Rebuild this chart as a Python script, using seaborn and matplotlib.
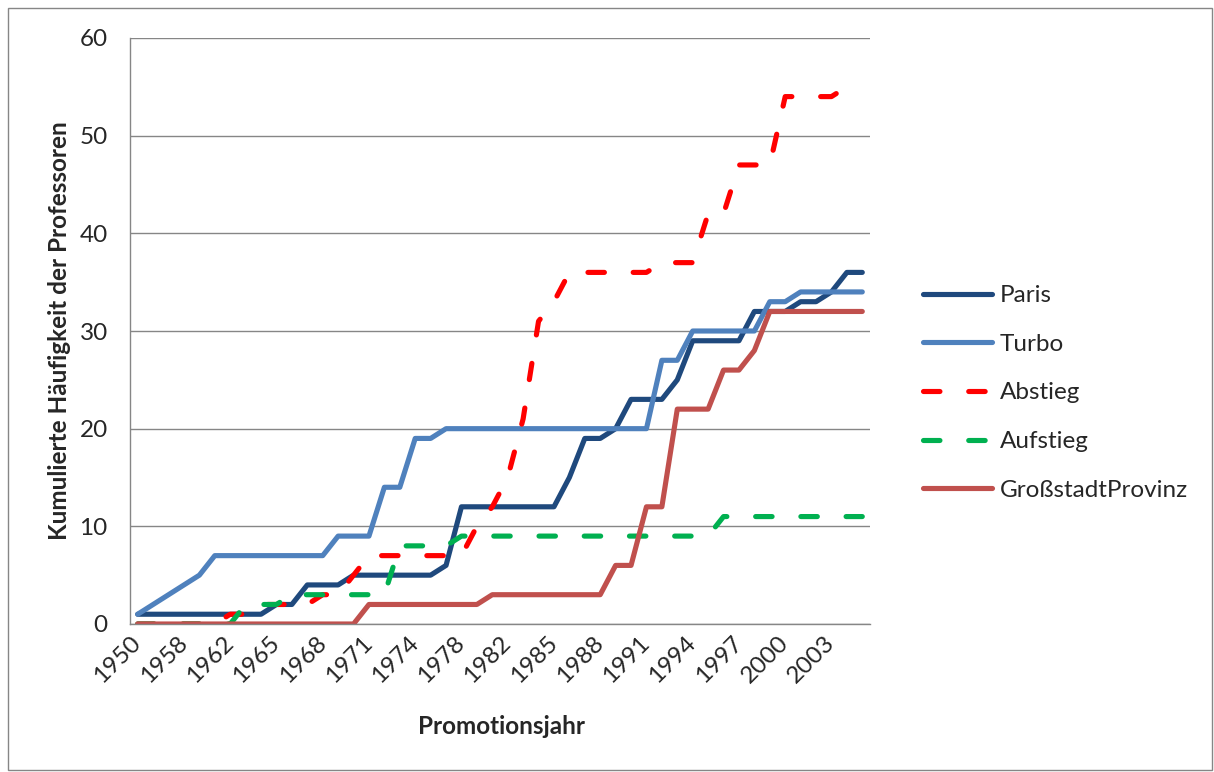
import matplotlib
matplotlib.use('Agg')
import matplotlib.pyplot as plt
import numpy as np
import pandas as pd
import seaborn as sns
from matplotlib.lines import Line2D
from matplotlib.patches import Rectangle

# Category axis: one entry per Promotionsjahr present in the data
years = [1950, 1952, 1955, 1958, 1959, 1960, 1962, 1963, 1964, 1965,
         1966, 1967, 1968, 1969, 1970, 1971, 1972, 1973, 1974, 1975,
         1976, 1978, 1979, 1980, 1982, 1983, 1984, 1985, 1986, 1987,
         1988, 1989, 1990, 1991, 1992, 1993, 1994, 1995, 1996, 1997,
         1998, 1999, 2000, 2001, 2002, 2003, 2004, 2005]

paris = [1, 1, 1, 1, 1, 1, 1, 1, 1, 2, 2, 4, 4, 4, 5, 5, 5, 5, 5, 5,
         6, 12, 12, 12, 12, 12, 12, 12, 15, 19, 19, 20, 23, 23, 23, 25,
         29, 29, 29, 29, 32, 32, 32, 33, 33, 34, 36, 36]
turbo = [1, 2, 3, 4, 5, 7, 7, 7, 7, 7, 7, 7, 7, 9, 9, 9, 14, 14, 19, 19,
         20, 20, 20, 20, 20, 20, 20, 20, 20, 20, 20, 20, 20, 20, 27, 27,
         30, 30, 30, 30, 30, 33, 33, 34, 34, 34, 34, 34]
abstieg = [0, 0, 0, 0, 0, 0, 1, 1, 2, 2, 2, 2, 3, 3, 5, 7, 7, 7, 7, 7,
           7, 7, 10, 12, 15, 21, 31, 33, 36, 36, 36, 36, 36, 36, 37, 37,
           37, 42, 42, 47, 47, 47, 54, 54, 54, 54, 55, 55]
aufstieg = [0, 0, 0, 0, 0, 0, 0, 2, 2, 2, 3, 3, 3, 3, 3, 3, 3, 8, 8, 8,
            8, 9, 9, 9, 9, 9, 9, 9, 9, 9, 9, 9, 9, 9, 9, 9,
            9, 9, 11, 11, 11, 11, 11, 11, 11, 11, 11, 11]
provinz = [0, 0, 0, 0, 0, 0, 0, 0, 0, 0, 0, 0, 0, 0, 0, 2, 2, 2, 2, 2,
           2, 2, 2, 3, 3, 3, 3, 3, 3, 3, 3, 6, 6, 12, 12, 22,
           22, 22, 26, 26, 28, 32, 32, 32, 32, 32, 32, 32]

series_names = ['Paris', 'Turbo', 'Abstieg', 'Aufstieg', 'GroßstadtProvinz']
colors = {
    'Paris': '#1F497D',
    'Turbo': '#4F81BD',
    'Abstieg': '#FF0000',
    'Aufstieg': '#00B050',
    'GroßstadtProvinz': '#C0504D',
}
dash_style = (3.2, 5.6)
dashes = {
    'Paris': '',
    'Turbo': '',
    'Abstieg': dash_style,
    'Aufstieg': dash_style,
    'GroßstadtProvinz': '',
}

GRAY = '#868686'
LW = 3.7
FS = 17.5

# Long format for seaborn
wide = pd.DataFrame({
    'pos': np.arange(len(years)),
    'Paris': paris,
    'Turbo': turbo,
    'Abstieg': abstieg,
    'Aufstieg': aufstieg,
    'GroßstadtProvinz': provinz,
})
df = wide.melt(id_vars='pos', var_name='Serie', value_name='Wert')

sns.set_style('white')
plt.rcParams['font.family'] = ['Lato', 'DejaVu Sans']

W, H = 1214, 772
fig = plt.figure(figsize=(W / 100, H / 100), dpi=100)
ax = fig.add_axes([130 / W, 1 - 624 / H, 740 / W, 586 / H])

sns.lineplot(
    data=df, x='pos', y='Wert', hue='Serie', style='Serie',
    hue_order=series_names, style_order=series_names,
    palette=colors, dashes=dashes, lw=LW, ax=ax, legend=False,
    solid_capstyle='round', dash_capstyle='round', solid_joinstyle='round',
)

# Axes formatting (Excel look)
ax.set_xlim(-0.5, len(years) - 0.5)
ax.set_ylim(0, 60)
ax.set_yticks(range(0, 61, 10))
label_pos = list(range(0, len(years), 3))
ax.set_xticks(label_pos)
ax.set_xticklabels([str(years[i]) for i in label_pos], rotation=45,
                   ha='right', va='center', rotation_mode='anchor', fontsize=FS)
ax.set_xticks(np.arange(-0.5, len(years), 1), minor=True)
ax.tick_params(axis='x', which='major', length=0, pad=11)
ax.tick_params(axis='x', which='minor', length=6, width=1, color=GRAY)
ax.tick_params(axis='y', length=7, width=1, color=GRAY, pad=9, labelsize=FS)
ax.set_xlabel('')
ax.set_ylabel('')

ax.yaxis.grid(True, color=GRAY, lw=1)
ax.xaxis.grid(False)
ax.set_axisbelow(True)
for side in ['top', 'right']:
    ax.spines[side].set_visible(False)
for side in ['left', 'bottom']:
    ax.spines[side].set_color(GRAY)
    ax.spines[side].set_linewidth(1)

fig.text(60 / W, 1 - 331 / H, 'Kumulierte Häufigkeit der Professoren',
         rotation=90, ha='center', va='center', fontsize=FS, fontweight='bold')
fig.text(502 / W, 1 - 727 / H, 'Promotionsjahr',
         ha='center', va='center', fontsize=FS, fontweight='bold')

# Legend
handles = []
for name in series_names:
    kw = dict(color=colors[name], lw=LW, solid_capstyle='round',
              dash_capstyle='round')
    if dashes[name]:
        kw['dashes'] = dashes[name]
    handles.append(Line2D([0], [0], **kw))
fig.legend(handles, series_names, loc='upper left',
           bbox_to_anchor=(923 / W, 1 - 285 / H), frameon=False,
           fontsize=FS, handlelength=2.85, handletextpad=0.3,
           labelspacing=1.14, borderpad=0, borderaxespad=0)

# Outer chart border
fig.add_artist(Rectangle((8 / W, 2 / H), 1 - 10 / W, 1 - 10 / H,
                         transform=fig.transFigure, fill=False,
                         edgecolor=GRAY, lw=1))

fig.savefig('out.png', dpi=100)
plt.close(fig)
